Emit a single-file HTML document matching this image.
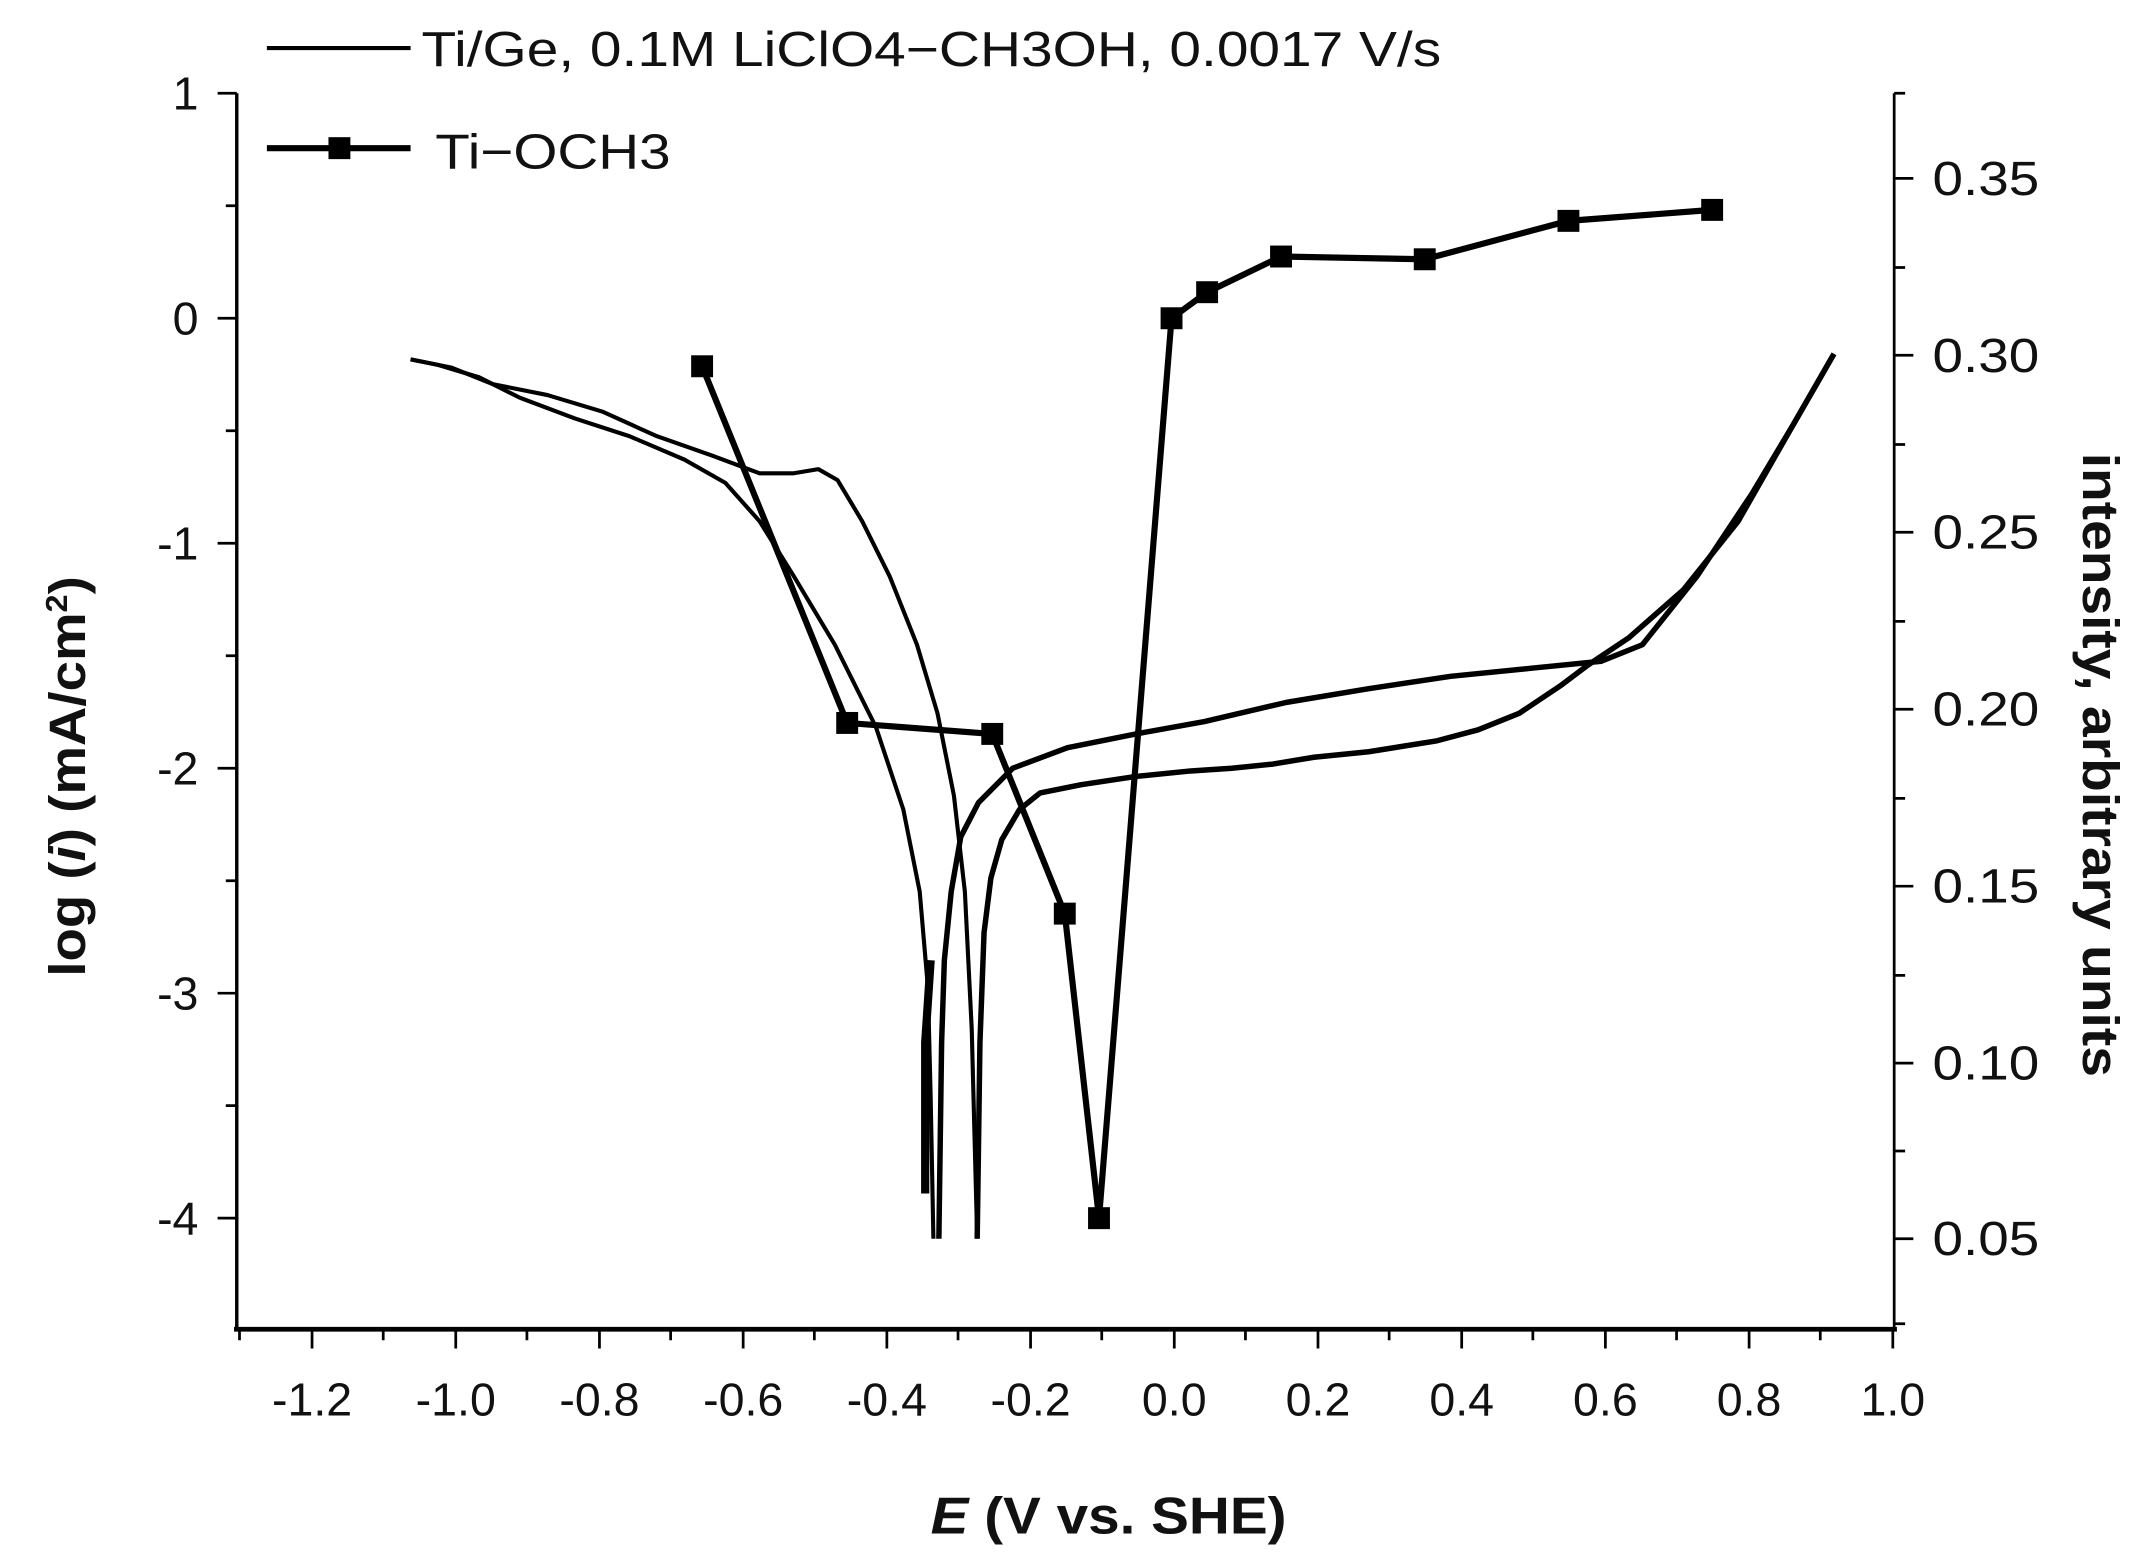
<!DOCTYPE html>
<html><head><meta charset="utf-8"><style>
html,body{margin:0;padding:0;background:#fff;}
svg{display:block}
text{font-family:"Liberation Sans",Arial,sans-serif;fill:#111}
</style></head><body>
<svg width="2146" height="1557" viewBox="0 0 1568 1135" preserveAspectRatio="none" xmlns="http://www.w3.org/2000/svg">
<rect width="1568" height="1135" fill="#fff"/>
<g stroke="#000" fill="none">
<line x1="173" y1="68" x2="173" y2="969" stroke-width="2.5"/>
<line x1="1384" y1="68" x2="1384" y2="969" stroke-width="2"/>
<line x1="171" y1="969" x2="1386" y2="969" stroke-width="3.5"/>
<path d="M173 68h-14M173 232h-14M173 396h-14M173 560h-14M173 724h-14M173 888h-14M173 150h-8M173 314h-8M173 478h-8M173 642h-8M173 806h-8" stroke-width="2"/>
<path d="M1384 130h14M1384 259h14M1384 388h14M1384 517h14M1384 646h14M1384 775h14M1384 903h14M1384 68h8M1384 195h8M1384 324h8M1384 453h8M1384 582h8M1384 711h8M1384 839h8M1384 965h8" stroke-width="2"/>
<path d="M228 969v14M333 969v14M438 969v14M543 969v14M648 969v14M753 969v14M858 969v14M963 969v14M1068 969v14M1173 969v14M1278 969v14M1383 969v14M175 969v8M280 969v8M385 969v8M490 969v8M595 969v8M700 969v8M805 969v8M910 969v8M1015 969v8M1120 969v8M1225 969v8M1330 969v8" stroke-width="2"/>
</g>
<g font-size="34" text-anchor="end">
<text x="145" y="80">1</text><text x="145" y="244">0</text><text x="145" y="408">-1</text><text x="145" y="572">-2</text><text x="145" y="736">-3</text><text x="145" y="900">-4</text>
</g>
<g font-size="35">
<text x="1412" y="142" textLength="78" lengthAdjust="spacingAndGlyphs">0.35</text><text x="1412" y="271" textLength="78" lengthAdjust="spacingAndGlyphs">0.30</text><text x="1412" y="400" textLength="78" lengthAdjust="spacingAndGlyphs">0.25</text><text x="1412" y="529" textLength="78" lengthAdjust="spacingAndGlyphs">0.20</text><text x="1412" y="658" textLength="78" lengthAdjust="spacingAndGlyphs">0.15</text><text x="1412" y="787" textLength="78" lengthAdjust="spacingAndGlyphs">0.10</text><text x="1412" y="915" textLength="78" lengthAdjust="spacingAndGlyphs">0.05</text>
</g>
<g font-size="34" text-anchor="middle">
<text x="228" y="1032">-1.2</text><text x="333" y="1032">-1.0</text><text x="438" y="1032">-0.8</text><text x="543" y="1032">-0.6</text><text x="648" y="1032">-0.4</text><text x="753" y="1032">-0.2</text><text x="858" y="1032">0.0</text><text x="963" y="1032">0.2</text><text x="1068" y="1032">0.4</text><text x="1173" y="1032">0.6</text><text x="1278" y="1032">0.8</text><text x="1383" y="1032">1.0</text>
</g>
<text x="680" y="1118" font-size="38" font-weight="bold" textLength="260" lengthAdjust="spacingAndGlyphs"><tspan font-style="italic">E</tspan> (V vs. SHE)</text>
<text transform="translate(62,712) rotate(-90)" font-size="37" font-weight="bold" textLength="292" lengthAdjust="spacingAndGlyphs">log (<tspan font-style="italic">i</tspan>) (mA/cm<tspan font-size="22" dy="-13">2</tspan><tspan dy="13">)</tspan></text>
<text transform="translate(1522,330) rotate(90)" font-size="37" font-weight="bold" textLength="455" lengthAdjust="spacingAndGlyphs">intensity, arbitrary units</text>
<line x1="195" y1="35" x2="300" y2="35" stroke="#000" stroke-width="3"/>
<text x="308" y="48" font-size="36" textLength="745" lengthAdjust="spacingAndGlyphs">Ti/Ge, 0.1M LiClO4−CH3OH, 0.0017 V/s</text>
<line x1="195" y1="108" x2="300" y2="108" stroke="#000" stroke-width="4.5"/>
<rect x="240" y="100" width="16" height="16" fill="#000"/>
<text x="318" y="123" font-size="36" textLength="172" lengthAdjust="spacingAndGlyphs">Ti−OCH3</text>
<g fill="none" stroke="#000" stroke-width="3" stroke-linejoin="round">
<polyline points="300,262 330,268 360,280 400,288 440,300 480,318 520,332 555,345 580,345 598,342 612,350 630,380 650,420 670,470 685,520 697,580 705,650 710,750 714,903"/>
<polyline points="714,903 716,760 719,680 724,640 732,612 745,590 760,578 790,572 830,566 870,562 900,560 930,557 960,552 1000,548 1050,540 1080,532 1110,520 1140,500 1160,485 1190,465 1230,430 1270,380 1310,310 1340,258" stroke-width="4"/>
<polyline points="300,262 320,266 350,275 380,290 420,305 460,318 500,335 530,352 555,380 580,420 610,470 640,530 660,590 672,650 678,720 680,800 682,903"/>
<polyline points="686,903 688,760 690,700 695,650 702,610 715,585 740,560 780,545 830,535 880,526 940,512 1000,502 1060,493 1120,487 1170,482 1200,470 1240,420 1280,360 1310,310 1340,258" stroke-width="4"/>
<polyline points="676,870 676,760 680,700" stroke-width="6"/>
</g>
<polyline fill="none" stroke="#000" stroke-width="4.5" points="513,267 619,527 725,535 778,666 803,888 856,232 882,213 936,187 1041,189 1146,161 1251,153"/>
<g fill="#000">
<rect x="505" y="259" width="16" height="16"/><rect x="611" y="519" width="16" height="16"/><rect x="717" y="527" width="16" height="16"/><rect x="770" y="658" width="16" height="16"/><rect x="795" y="880" width="16" height="16"/><rect x="848" y="224" width="16" height="16"/><rect x="874" y="205" width="16" height="16"/><rect x="928" y="179" width="16" height="16"/><rect x="1033" y="181" width="16" height="16"/><rect x="1138" y="153" width="16" height="16"/><rect x="1243" y="145" width="16" height="16"/>
</g>
</svg>
</body></html>
